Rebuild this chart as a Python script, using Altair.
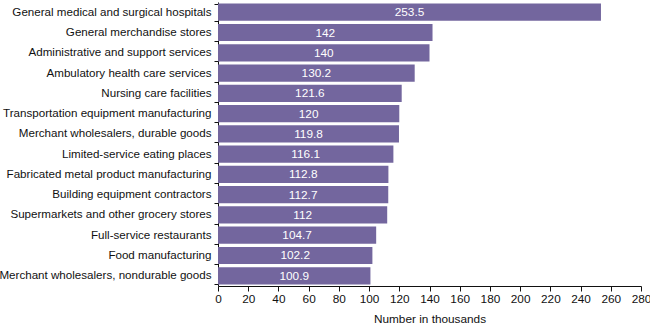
import altair as alt
import pandas as pd

categories = [
    "General medical and surgical hospitals",
    "General merchandise stores",
    "Administrative and support services",
    "Ambulatory health care services",
    "Nursing care facilities",
    "Transportation equipment manufacturing",
    "Merchant wholesalers, durable goods",
    "Limited-service eating places",
    "Fabricated metal product manufacturing",
    "Building equipment contractors",
    "Supermarkets and other grocery stores",
    "Full-service restaurants",
    "Food manufacturing",
    "Merchant wholesalers, nondurable goods",
]
values = [253.5, 142, 140, 130.2, 121.6, 120, 119.8, 116.1, 112.8, 112.7, 112, 104.7, 102.2, 100.9]
labels = ["253.5", "142", "140", "130.2", "121.6", "120", "119.8", "116.1", "112.8", "112.7", "112", "104.7", "102.2", "100.9"]
x_ticks = [0, 20, 40, 60, 80, 100, 120, 140, 160, 180, 200, 220, 240, 260, 280]

df = pd.DataFrame({"category": categories, "value": values, "label": labels})

FONT = "Liberation Sans"
COLOR = "#73669e"
FS = 11.8
FSY = 11.6

y_axis = alt.Axis(tickBand="extent", tickSize=4, labelPadding=3, labelFontSize=FSY,
                  labelFont=FONT, labelColor="#111", domainColor="#111", tickColor="#111",
                  labelLimit=300)
x_axis = alt.Axis(values=x_ticks, grid=False, tickSize=5, labelOverlap=False,
                  labelFontSize=FS, labelFont=FONT, labelColor="#111",
                  titleFont=FONT, titleFontSize=FS, titleFontWeight="normal",
                  titleColor="#111", titlePadding=9, domainColor="#111",
                  tickColor="#111", labelFlush=False)
x_scale = alt.Scale(domain=[0, 280], nice=False)
y_scale = alt.Scale(paddingInner=0.15, paddingOuter=0.08)

bars = alt.Chart(df).mark_bar(color=COLOR).encode(
    x=alt.X("value:Q", title="Number in thousands", scale=x_scale, axis=x_axis),
    y=alt.Y("category:N", sort=categories, title=None, scale=y_scale, axis=y_axis),
)

text = alt.Chart(df).transform_calculate(half="datum.value / 2").mark_text(
    color="white", fontSize=FS, font=FONT, baseline="middle", align="center"
).encode(
    x=alt.X("half:Q", title="Number in thousands", scale=x_scale, axis=x_axis),
    y=alt.Y("category:N", sort=categories, title=None, scale=y_scale, axis=y_axis),
    text="label:N",
)

chart = (bars + text).properties(
    width=423, height=284,
    background="white",
    autosize=alt.AutoSizeParams(type="none"),
    padding={"left": 218, "top": 2, "right": 9, "bottom": 41},
).configure_view(stroke=None)

chart.save("out.html", embed_options={"renderer": "svg", "actions": False})
